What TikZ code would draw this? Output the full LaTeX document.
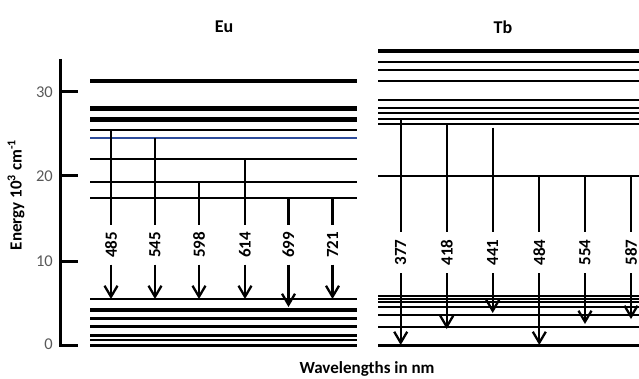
\documentclass[tikz,border=0pt]{standalone}
\usepackage{fontspec}
\setmainfont{Carlito}
\usetikzlibrary{arrows.meta}
\definecolor{eublue}{HTML}{2E4C9A}
\begin{document}
\begin{tikzpicture}[x=1pt,y=-1pt,
  axisline/.style={line width=3pt},
  arr/.style={line width=2.3pt},
  arrtip/.style={line width=2.3pt,-{Straight Barb[length=11pt,width=13pt]}},
  wl/.style={rotate=90,inner sep=0pt,font=\fontsize{17}{17}\bfseries\selectfont},
  wleu/.style={wl,minimum width=39pt},
  wltb/.style={wl,minimum width=41pt},
  ticklab/.style={anchor=east,inner sep=0pt,text=black!65,font=\fontsize{16.5}{16.5}\selectfont},
  ttl/.style={font=\fontsize{18}{18}\bfseries\selectfont},
  axlab/.style={font=\fontsize{17}{17}\bfseries\selectfont}
]
\useasboundingbox (0,0) rectangle (639,379);
% axis
\coordinate (atop) at (60,59);
\coordinate (abot) at (60,345);
\coordinate (aend) at (78,345);
\draw[axisline] (atop) -- (abot) -- (aend);
\foreach \v/\y in {30/91.7,20/176,10/261} {
  \coordinate (tk\v) at (60,\y);
  \coordinate (tke\v) at (78,\y);
  \draw[axisline] (tk\v) -- (tke\v);
}
\foreach \v/\y in {30/92.5,20/176.5,10/261.5,0/344.5} {
  \node[ticklab] (n\v) at (53,\y) {\v};
}
% Eu levels
\foreach \y/\w in {81/3.6, 108.3/4.7, 119.3/4.7, 130/2.3, 159.3/2.3, 181.7/2.3, 198.3/2.3, 299/2, 310/4, 318.3/3, 326.7/2.5, 335/3, 340/2.5, 345.7/3} {
  \draw[line width=\w pt] (90,\y) -- (357,\y);
}
\draw[line width=2pt,eublue] (90,138.3) -- (357,138.3);
% Tb levels
\foreach \y/\w in {50.7/4, 61.7/2.3, 70/2.3, 81/2.3, 100/2.3, 107.7/2.3, 113.3/2.3, 119/2.3, 124.3/2.3, 176/2.3, 296/1.8, 299/1.8, 302.3/1.8, 307.3/2.3, 315/2.3, 326.7/2.3, 345.5/2.3} {
  \draw[line width=\w pt] (378,\y) -- (639,\y);
}
% Eu transitions
\foreach \n/\x/\t/\e in {485/111/130/299, 545/155/138.3/299, 598/199/181.7/299, 614/245/159.3/299, 699/288.5/198.3/307, 721/332.5/198.3/299} {
  \coordinate (t\n) at (\x,\t);
  \node[wleu] (l\n) at (\x,245) {\n};
  \coordinate (e\n) at (\x,\e);
  \draw[arr] (t\n) -- (l\n.east);
  \draw[arrtip] (l\n.west) -- (e\n);
}
% Tb transitions
\foreach \n/\x/\t/\e in {377/400.7/119/345, 418/446.7/124.3/329, 441/492.7/127.7/313, 484/539.3/176/345, 554/585/176/324, 587/631/176/319} {
  \coordinate (t\n) at (\x,\t);
  \node[wltb] (l\n) at (\x,252.5) {\n};
  \coordinate (e\n) at (\x,\e);
  \draw[arr] (t\n) -- (l\n.east);
  \draw[arrtip] (l\n.west) -- (e\n);
}
% titles and labels
\node[ttl] (eu) at (224,27) {Eu};
\node[ttl] (tb) at (503,27) {Tb};
\node[axlab] (xl) at (367,369) {Wavelengths in nm};
\node[axlab,rotate=90] (yl) at (16,195) {Energy 10\textsuperscript{3} cm\textsuperscript{-1}};
\end{tikzpicture}
\end{document}
